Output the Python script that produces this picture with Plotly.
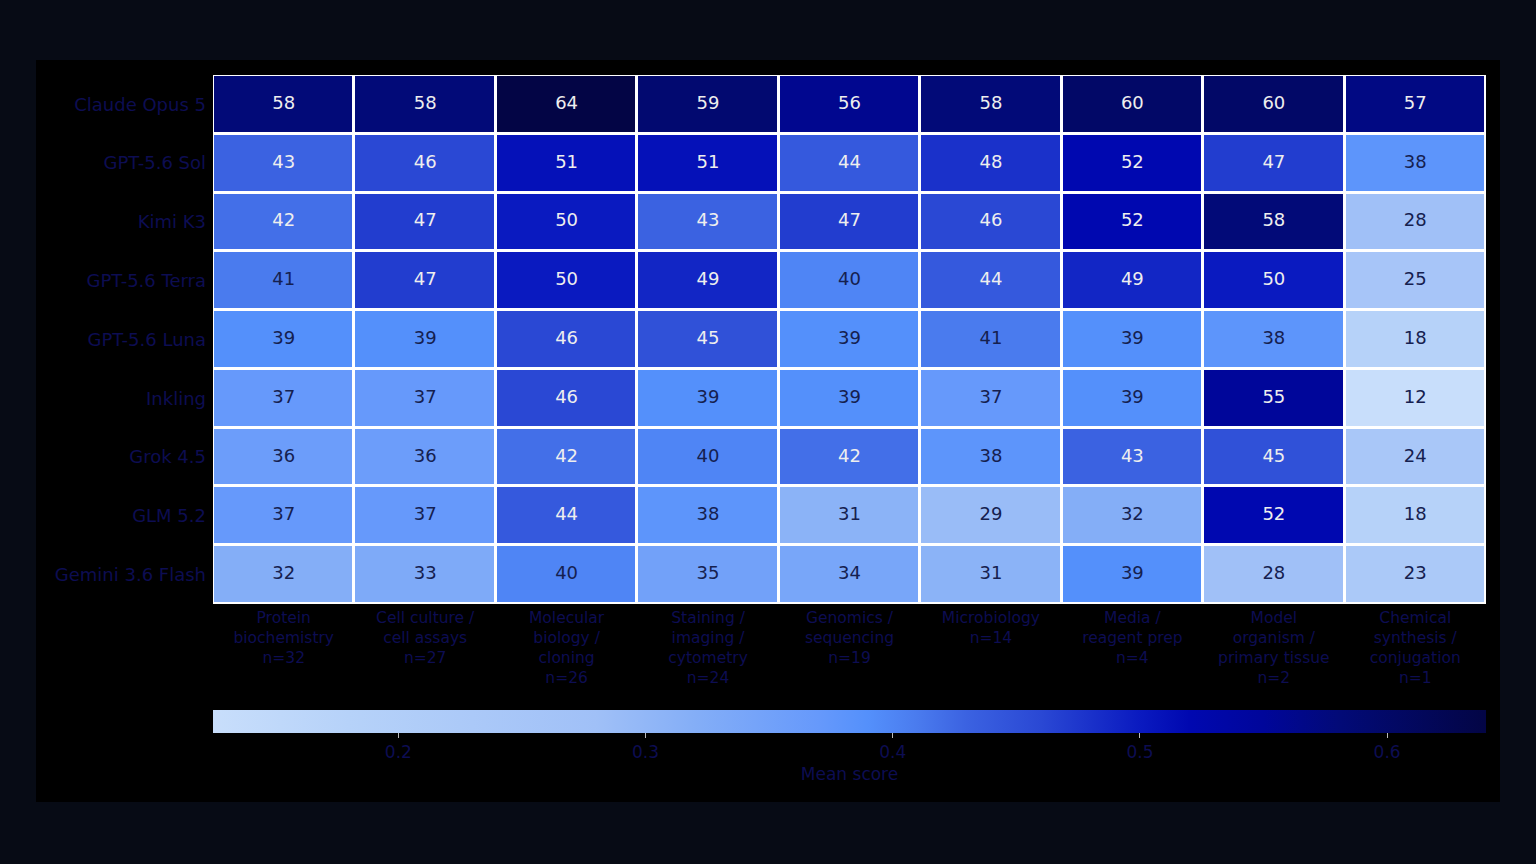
import plotly.graph_objects as go

models = ["Claude Opus 5", "GPT-5.6 Sol", "Kimi K3", "GPT-5.6 Terra", "GPT-5.6 Luna",
          "Inkling", "Grok 4.5", "GLM 5.2", "Gemini 3.6 Flash"]
categories = ["Protein<br>biochemistry<br>n=32", "Cell culture /<br>cell assays<br>n=27",
              "Molecular<br>biology /<br>cloning<br>n=26", "Staining /<br>imaging /<br>cytometry<br>n=24",
              "Genomics /<br>sequencing<br>n=19", "Microbiology<br>n=14", "Media /<br>reagent prep<br>n=4",
              "Model<br>organism /<br>primary tissue<br>n=2", "Chemical<br>synthesis /<br>conjugation<br>n=1"]

# mean scores in percent, one list per model
claude_opus_5 = [58, 58, 64, 59, 56, 58, 60, 60, 57]
gpt_sol = [43, 46, 51, 51, 44, 48, 52, 47, 38]
kimi_k3 = [42, 47, 50, 43, 47, 46, 52, 58, 28]
gpt_terra = [41, 47, 50, 49, 40, 44, 49, 50, 25]
gpt_luna = [39, 39, 46, 45, 39, 41, 39, 38, 18]
inkling = [37, 37, 46, 39, 39, 37, 39, 55, 12.5]
grok = [36, 36, 42, 40, 42, 38, 43, 45, 24]
glm = [37, 37, 44, 38, 31, 29, 32, 52, 18]
gemini_flash = [32, 33, 40, 35, 34, 31, 39, 28, 23]

cbar_ticks = [0.2, 0.3, 0.4, 0.5, 0.6]

rows = [claude_opus_5, gpt_sol, kimi_k3, gpt_terra, gpt_luna, inkling, grok, glm, gemini_flash]
z = [[v / 100 for v in r] for r in rows]
zmin, zmax = 0.125, 0.64

def pos(v):
    return (v - 12.5) / 51.5

scale = [
    [pos(12.5), "#c8defb"], [pos(18), "#b6d2f9"], [pos(28), "#a0c0f7"], [pos(32), "#84aef7"],
    [pos(37), "#6699fb"], [pos(39), "#5490fb"], [pos(41), "#4a7bee"], [pos(43), "#3b62e1"],
    [pos(46), "#2a48d4"], [pos(50), "#0a1ac0"], [pos(52), "#0008b0"], [pos(55), "#00069a"],
    [pos(58), "#020a78"], [pos(64), "#030545"],
]

label_color = "#0d0d52"

fig = go.Figure()
fig.add_trace(go.Heatmap(
    z=z, x=categories, y=models, zmin=zmin, zmax=zmax, colorscale=scale,
    xgap=3, ygap=3, hoverinfo="skip",
    colorbar=dict(
        orientation="h", x=0.5, xanchor="center", y=-0.2004, yanchor="top",
        len=1, lenmode="fraction", thickness=23, xpad=0, ypad=0, outlinewidth=0,
        tickvals=cbar_ticks, ticktext=[str(t) for t in cbar_ticks],
        ticks="outside", ticklen=5, tickcolor="#bbbbbb",
        tickfont=dict(size=17, color=label_color, family="DejaVu Sans"),
        title=dict(text="Mean score", side="bottom",
                   font=dict(size=17, color=label_color, family="DejaVu Sans")),
    ),
))

xs, ys, labels, colors = [], [], [], []
for m, r in zip(models, rows):
    for c, v in zip(categories, r):
        xs.append(c)
        ys.append(m)
        labels.append(f"{v:.0f}")
        colors.append("#eeeeee" if v >= 41.5 else "#15204f")
fig.add_trace(go.Scatter(x=xs, y=ys, mode="text", text=labels, hoverinfo="skip",
                         textfont=dict(size=18, color=colors, family="DejaVu Sans"),
                         showlegend=False))

frame = "#070b15"
# dark page frame around the black figure area (paper coords of plot area 213..1486, 75..604)
W, H = 1273, 529
def px(x):
    return (x - 213) / W
def py(y):
    return (604 - y) / H
shapes = [
    dict(type="rect", xref="paper", yref="paper", x0=px(0), x1=px(1536), y0=py(0), y1=py(60)),
    dict(type="rect", xref="paper", yref="paper", x0=px(0), x1=px(1536), y0=py(802), y1=py(864)),
    dict(type="rect", xref="paper", yref="paper", x0=px(0), x1=px(36), y0=py(0), y1=py(864)),
    dict(type="rect", xref="paper", yref="paper", x0=px(1500), x1=px(1536), y0=py(0), y1=py(864)),
]
for s in shapes:
    s.update(fillcolor=frame, line=dict(width=0), layer="above")

fig.update_layout(
    width=1536, height=864,
    margin=dict(l=213, r=50, t=75, b=260),
    paper_bgcolor="#000000", plot_bgcolor="#ffffff",
    font=dict(family="DejaVu Sans", color=label_color),
    shapes=shapes, showlegend=False,
)
fig.update_xaxes(showgrid=False, zeroline=False, tickfont=dict(size=15.5, color=label_color),
                 ticks="", fixedrange=True, ticklabelstandoff=2)
fig.update_yaxes(autorange="reversed", showgrid=False, zeroline=False,
                 tickfont=dict(size=18, color=label_color), ticks="", fixedrange=True,
                 ticklabelstandoff=6)

fig.write_html("out.html", config={"displayModeBar": False},
               post_script="document.body.style.margin='0';document.body.style.background='%s';" % frame)
